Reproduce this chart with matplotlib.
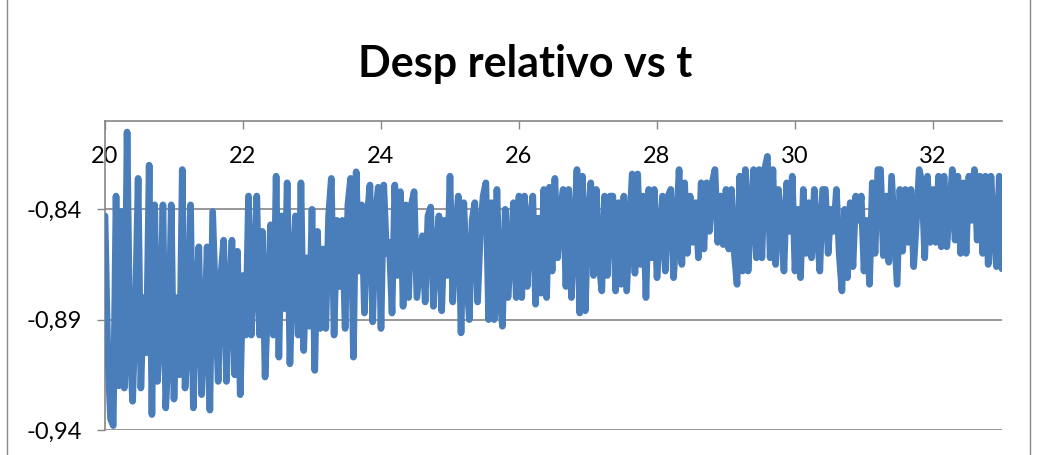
import numpy as np
import matplotlib
matplotlib.use("Agg")
import matplotlib.pyplot as plt
from matplotlib.patches import Rectangle

title = "Desp relativo vs t"
t_start = 20.0
dt = 0.04
desp = [
    # 20.00 - 20.96
    -0.843, -0.905, -0.935, -0.938, -0.834, -0.920, -0.841, -0.921, -0.805, -0.900,
    -0.927, -0.887, -0.826, -0.921, -0.880, -0.905, -0.820, -0.933, -0.838, -0.918,
    -0.895, -0.838, -0.930, -0.905, -0.838,
    # 21.00 - 21.96
    -0.926, -0.880, -0.915, -0.822, -0.921, -0.900, -0.838, -0.930, -0.880, -0.857,
    -0.924, -0.900, -0.857, -0.931, -0.841, -0.880, -0.918, -0.870, -0.854, -0.918,
    -0.880, -0.854, -0.915, -0.859, -0.924,
    # 22.00 - 22.96
    -0.870, -0.897, -0.834, -0.897, -0.870, -0.834, -0.897, -0.850, -0.916, -0.880,
    -0.847, -0.897, -0.825, -0.907, -0.843, -0.885, -0.828, -0.910, -0.870, -0.843,
    -0.897, -0.828, -0.904, -0.862, -0.893,
    # 23.00 - 23.96
    -0.840, -0.913, -0.850, -0.894, -0.858, -0.894, -0.843, -0.826, -0.897, -0.845,
    -0.875, -0.845, -0.894, -0.838, -0.826, -0.907, -0.823, -0.868, -0.838, -0.887,
    -0.843, -0.829, -0.891, -0.843, -0.830,
    # 24.00 - 24.96
    -0.894, -0.829, -0.860, -0.855, -0.887, -0.829, -0.870, -0.832, -0.884, -0.838,
    -0.880, -0.838, -0.832, -0.880, -0.866, -0.852, -0.882, -0.843, -0.839, -0.884,
    -0.860, -0.843, -0.886, -0.845, -0.870,
    # 25.00 - 25.96
    -0.825, -0.882, -0.850, -0.834, -0.896, -0.837, -0.870, -0.890, -0.845, -0.837,
    -0.882, -0.850, -0.834, -0.828, -0.890, -0.837, -0.890, -0.831, -0.878, -0.893,
    -0.840, -0.880, -0.860, -0.837, -0.880,
    # 26.00 - 26.96
    -0.834, -0.880, -0.834, -0.875, -0.845, -0.834, -0.883, -0.844, -0.878, -0.831,
    -0.880, -0.830, -0.868, -0.826, -0.862, -0.840, -0.831, -0.875, -0.831, -0.880,
    -0.850, -0.822, -0.887, -0.825, -0.886,
    # 27.00 - 27.96
    -0.845, -0.828, -0.870, -0.831, -0.864, -0.877, -0.834, -0.870, -0.834, -0.834,
    -0.877, -0.837, -0.874, -0.834, -0.877, -0.850, -0.824, -0.869, -0.824, -0.865,
    -0.834, -0.880, -0.831, -0.862, -0.831,
    # 28.00 - 28.96
    -0.871, -0.850, -0.834, -0.868, -0.834, -0.831, -0.871, -0.850, -0.822, -0.865,
    -0.828, -0.860, -0.834, -0.855, -0.837, -0.862, -0.828, -0.858, -0.828, -0.850,
    -0.828, -0.822, -0.855, -0.834, -0.856,
    # 29.00 - 29.96
    -0.831, -0.858, -0.831, -0.860, -0.874, -0.825, -0.868, -0.822, -0.868, -0.840,
    -0.822, -0.862, -0.822, -0.862, -0.822, -0.816, -0.862, -0.822, -0.865, -0.831,
    -0.845, -0.868, -0.828, -0.850, -0.825,
    # 30.00 - 30.96
    -0.868, -0.840, -0.871, -0.831, -0.860, -0.837, -0.862, -0.831, -0.850, -0.868,
    -0.831, -0.831, -0.860, -0.840, -0.850, -0.831, -0.860, -0.877, -0.840, -0.871,
    -0.837, -0.866, -0.834, -0.845, -0.834,
    # 31.00 - 31.96
    -0.868, -0.845, -0.874, -0.828, -0.860, -0.822, -0.822, -0.861, -0.834, -0.864,
    -0.825, -0.850, -0.874, -0.831, -0.859, -0.831, -0.855, -0.831, -0.866, -0.845,
    -0.822, -0.828, -0.862, -0.825, -0.855,
    # 32.00 - 32.96
    -0.831, -0.855, -0.825, -0.857, -0.825, -0.857, -0.840, -0.822, -0.854, -0.825,
    -0.860, -0.828, -0.860, -0.825, -0.845, -0.822, -0.854, -0.825, -0.860, -0.825,
    -0.865, -0.825, -0.850, -0.866, -0.825,
    # 33.00
    -0.867,
]
tiempo = np.round(t_start + dt * np.arange(len(desp)), 2)

x_ticks = [20, 22, 24, 26, 28, 30, 32]
x_labels = ["20", "22", "24", "26", "28", "30", "32"]
y_ticks = [-0.94, -0.89, -0.84]
y_labels = ["-0,94", "-0,89", "-0,84"]

W, H = 1037, 455
fig = plt.figure(figsize=(W / 100, H / 100), dpi=100)
fig.patch.set_facecolor("white")

# outer chart frame
fig.patches.append(Rectangle((7 / W, -0.05), (1030 - 7) / W, 1.1,
                             transform=fig.transFigure, fill=False,
                             edgecolor="#898989", linewidth=1.0))

ax = fig.add_axes([105 / W, 1 - 430 / H, (1002 - 105) / W, (430 - 121) / H])
ax.plot(tiempo, desp, color="#4A7EBB", linewidth=4.8,
        solid_joinstyle="round", solid_capstyle="round", zorder=3)

ax.set_xlim(20, 33)
ax.set_ylim(-0.94, -0.80)

ax.set_yticks(y_ticks)
ax.set_yticklabels(y_labels)
ax.set_xticks(x_ticks)
ax.set_xticklabels(x_labels)

ax.xaxis.tick_top()
ax.tick_params(axis="x", direction="in", length=5.5, width=1.0,
               color="#868686", pad=-33, labelsize=17)
ax.tick_params(axis="y", direction="out", length=5.5, width=1.0,
               color="#868686", pad=11, labelsize=17)
for lab in ax.get_xticklabels() + ax.get_yticklabels():
    lab.set_family("Lato")

ax.yaxis.grid(True, color="#868686", linewidth=1.2, zorder=1)
ax.set_axisbelow(True)

for side in ["bottom", "right"]:
    ax.spines[side].set_visible(False)
for side in ["left", "top"]:
    ax.spines[side].set_color("#868686")
    ax.spines[side].set_linewidth(1.2)

fig.text(525 / W, 1 - 64 / H, title, ha="center", va="center",
         fontsize=31, fontweight="bold", family="Lato")

fig.savefig("out.png", dpi=100, facecolor="white")
